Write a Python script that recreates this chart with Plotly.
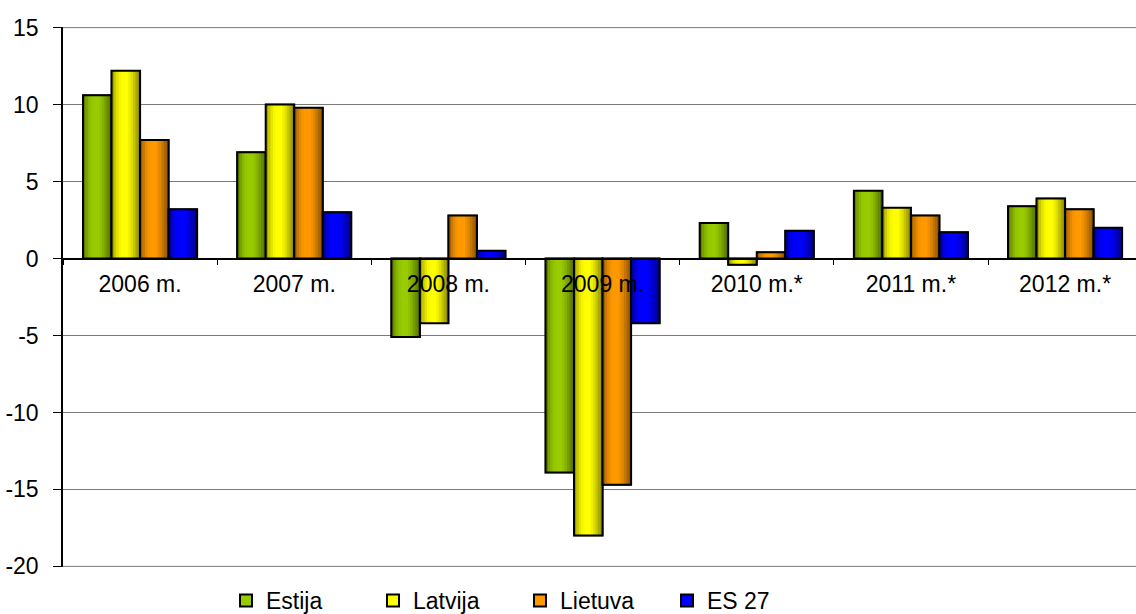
import plotly.graph_objects as go

# Real GDP growth, % (Baltic states vs. EU-27)
years = ["2006 m.", "2007 m.", "2008 m.", "2009 m.", "2010 m.*", "2011 m.*", "2012 m.*"]
estija = [10.6, 6.9, -5.1, -13.9, 2.3, 4.4, 3.4]
latvija = [12.2, 10.0, -4.2, -18.0, -0.4, 3.3, 3.9]
lietuva = [7.7, 9.8, 2.8, -14.7, 0.4, 2.8, 3.2]
es27 = [3.2, 3.0, 0.5, -4.2, 1.8, 1.7, 2.0]

y_ticks = [-20, -15, -10, -5, 0, 5, 10, 15]
y_tick_text = ["-20", "-15", "-10", "-5", "0", "5", "10", "15"]

series = [
    ("Estija", estija, (153, 204, 0)),
    ("Latvija", latvija, (255, 255, 0)),
    ("Lietuva", lietuva, (255, 153, 0)),
    ("ES 27", es27, (0, 0, 255)),
]

FONT = "Liberation Sans, Arial, sans-serif"
FS = 23
BAR_W = 0.185
GROUP_START = -2 * BAR_W
N_STRIPS = 12
Y_LO, Y_HI = -20.04, 15.04
GRID = "#7a7a7a"

# horizontal shading profile across a bar (brightness factor)
profile_pts = [(0.0, 0.55), (0.1, 0.75), (0.25, 0.95), (0.4, 1.0), (0.55, 1.0),
               (0.7, 0.88), (0.85, 0.7), (1.0, 0.5)]


def shade(t):
    for (t0, f0), (t1, f1) in zip(profile_pts, profile_pts[1:]):
        if t0 <= t <= t1:
            return f0 + (f1 - f0) * (t - t0) / (t1 - t0)
    return profile_pts[-1][1]


def rgb(c, f=1.0):
    return "rgb({},{},{})".format(*(int(round(v * f)) for v in c))


fig = go.Figure()

for i, (name, vals, col) in enumerate(series):
    off = GROUP_START + i * BAR_W
    # base bar (carries the legend entry)
    fig.add_trace(go.Bar(
        x=years, y=vals, name=name, offset=off, width=BAR_W,
        marker=dict(color=rgb(col), line=dict(color="black", width=1.5)),
        showlegend=True,
    ))
    # shading strips
    sw = BAR_W / N_STRIPS
    for k in range(N_STRIPS):
        t = (k + 0.5) / N_STRIPS
        fig.add_trace(go.Bar(
            x=years, y=vals, offset=off + k * sw, width=sw * 1.15,
            marker=dict(color=rgb(col, shade(t)), line=dict(width=0)),
            showlegend=False, hoverinfo="skip",
        ))
    # outline on top
    fig.add_trace(go.Bar(
        x=years, y=vals, offset=off, width=BAR_W,
        marker=dict(color="rgba(0,0,0,0)", line=dict(color="black", width=2)),
        showlegend=False, hoverinfo="skip",
    ))

# outer grid lines at the ends of the value range
for yv in (y_ticks[0], y_ticks[-1]):
    fig.add_shape(type="line", xref="paper", yref="y", x0=0, x1=1, y0=yv, y1=yv,
                  line=dict(color=GRID, width=1), layer="below")

fig.update_layout(
    width=1136, height=614,
    margin=dict(l=63, r=0, t=27, b=47, autoexpand=False),
    barmode="overlay",
    plot_bgcolor="white", paper_bgcolor="white",
    font=dict(family=FONT, size=FS, color="black"),
    xaxis=dict(
        type="category", range=[-0.5, 6.46],
        anchor="free", position=(0 - Y_LO) / (Y_HI - Y_LO),
        showline=True, linecolor="black", linewidth=1.5,
        ticks="outside", tickson="boundaries", ticklen=6, tickcolor="black",
        ticklabelstandoff=5,
        showgrid=False, zeroline=False,
        tickfont=dict(family=FONT, size=FS, color="black"),
    ),
    yaxis=dict(
        range=[Y_LO, Y_HI], tickvals=y_ticks, ticktext=y_tick_text,
        showgrid=True, gridcolor=GRID, gridwidth=1,
        zeroline=True, zerolinecolor="black", zerolinewidth=1.5,
        showline=True, linecolor="black", linewidth=1.5,
        ticks="outside", ticklen=8, tickcolor="black",
        ticklabelstandoff=10,
        tickfont=dict(family=FONT, size=FS, color="black"),
    ),
    legend=dict(
        orientation="h", x=(226 - 63) / 1073, xanchor="left",
        y=-0.062, yanchor="middle",
        entrywidth=102, entrywidthmode="pixels",
        font=dict(family=FONT, size=FS, color="black"),
        traceorder="normal", itemsizing="constant",
    ),
    showlegend=True,
)

fig.write_html("out.html")
